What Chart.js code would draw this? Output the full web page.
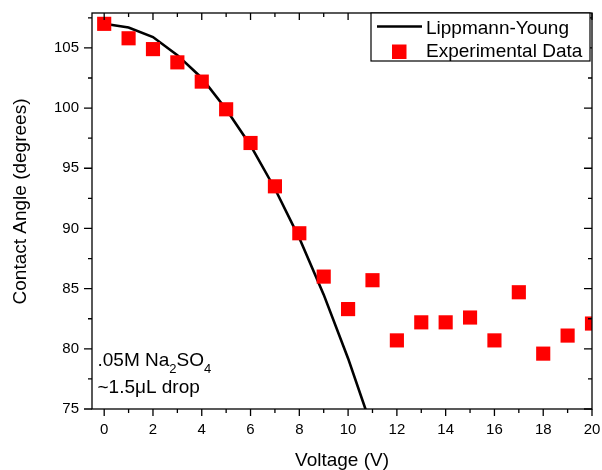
<!DOCTYPE html>
<html>
<head>
<meta charset="utf-8">
<script src="https://cdn.jsdelivr.net/npm/chart.js@4"></script>
<style>
  html, body { margin: 0; padding: 0; background: #fff; }
</style>
</head>
<body>
<canvas id="myChart" width="602" height="470"></canvas>
<script>
// measured points
const voltage = [0, 1, 2, 3, 4, 5, 6, 7, 8, 9, 10, 11, 12, 13, 14, 15, 16, 17, 18, 19, 20]
const contactAngle = [
  107.0, 105.8, 104.9, 103.8, 102.2, 99.9, 97.1, 93.5, 89.6, 86.0, 83.3,
  85.7, 80.7, 82.2, 82.2, 82.6, 80.7, 84.7, 79.6, 81.1, 82.1,
]

// Lippmann-Young curve
const fitVoltage = [0, 1, 2, 3, 4, 5, 6, 7, 8, 9, 10, 11]
const fitAngle = [107.0, 106.7, 105.9, 104.4, 102.5, 99.9, 96.9, 93.3, 89.2, 84.5, 79.2, 73.3]

const xTickValues = [0, 2, 4, 6, 8, 10, 12, 14, 16, 18, 20]
const xMinorTicks = [1, 3, 5, 7, 9, 11, 13, 15, 17, 19]
const yTickValues = [75, 80, 85, 90, 95, 100, 105]
const yMinorTicks = [77.5, 82.5, 87.5, 92.5, 97.5, 102.5, 107.5]

const FONT = "'Liberation Sans', Arial, sans-serif"

Chart.defaults.font.family = FONT
Chart.defaults.font.size = 15
Chart.defaults.color = '#000'

const toPoints = (xs, ys) => xs.map((v, i) => ({ x: v, y: ys[i] }))

const frame = {
  id: 'frame',
  afterDatasetsDraw(chart) {
    const { ctx, chartArea: a, scales: { x, y } } = chart
    ctx.save()
    ctx.strokeStyle = '#000'
    ctx.lineWidth = 1.3
    ctx.strokeRect(a.left, a.top, a.right - a.left, a.bottom - a.top)

    ctx.beginPath()
    const xMark = (v, len) => {
      const px = x.getPixelForValue(v)
      ctx.moveTo(px, a.bottom); ctx.lineTo(px, a.bottom + len)
      ctx.moveTo(px, a.top); ctx.lineTo(px, a.top + len)
    }
    const yMark = (v, len) => {
      const py = y.getPixelForValue(v)
      ctx.moveTo(a.left, py); ctx.lineTo(a.left - len, py)
      ctx.moveTo(a.right, py); ctx.lineTo(a.right - len, py)
    }
    xTickValues.forEach(v => xMark(v, 7))
    xMinorTicks.forEach(v => xMark(v, 4))
    yTickValues.forEach(v => yMark(v, 8))
    yMinorTicks.forEach(v => yMark(v, 4))
    ctx.stroke()

    // axis titles
    ctx.fillStyle = '#000'
    ctx.font = '19px ' + FONT
    ctx.textAlign = 'center'
    ctx.textBaseline = 'alphabetic'
    ctx.fillText('Voltage (V)', (a.left + a.right) / 2, 465.5)
    ctx.save()
    ctx.translate(26, 201.5)
    ctx.rotate(-Math.PI / 2)
    ctx.fillText('Contact Angle (degrees)', 0, 0)
    ctx.restore()

    // legend
    const ds = chart.data.datasets
    ctx.fillStyle = '#fff'
    ctx.fillRect(371, a.top, 219, 48)
    ctx.lineWidth = 1.2
    ctx.strokeRect(371, a.top, 219, 48)
    ctx.beginPath()
    ctx.strokeStyle = ds[0].borderColor
    ctx.lineWidth = 2.6
    ctx.moveTo(377, 26.5); ctx.lineTo(422, 26.5)
    ctx.stroke()
    ctx.fillStyle = ds[1].backgroundColor
    ctx.fillRect(392, 44.5, 14.5, 14.5)
    ctx.fillStyle = '#000'
    ctx.textAlign = 'left'
    ctx.fillText(ds[0].label, 426, 33.5)
    ctx.fillText(ds[1].label, 426, 56.5)

    // note
    let tx = 97.5
    const put = (s, size, base) => {
      ctx.font = size + 'px ' + FONT
      ctx.fillText(s, tx, base)
      tx += ctx.measureText(s).width
    }
    put('.05M Na', 19, 365.5)
    put('2', 13, 373)
    put('SO', 19, 365.5)
    put('4', 13, 373)
    ctx.font = '19px ' + FONT
    ctx.fillText('~1.5\u03bcL drop', 97.5, 393)
    ctx.restore()
  },
}

const ctx = document.getElementById('myChart')

new Chart(ctx, {
  type: 'scatter',
  data: {
    datasets: [
      {
        label: 'Lippmann-Young',
        data: toPoints(fitVoltage, fitAngle),
        showLine: true,
        borderColor: '#000',
        borderWidth: 2.6,
        pointRadius: 0,
        tension: 0,
        clip: 0,
        order: 1,
      },
      {
        label: 'Experimental Data',
        data: toPoints(voltage, contactAngle),
        pointStyle: 'rect',
        pointRadius: 10,
        borderWidth: 0,
        backgroundColor: '#ff0000',
        clip: 0,
        order: 0,
      },
    ],
  },
  options: {
    responsive: false,
    animation: false,
    layout: { padding: { left: 0, top: 13, right: 9.5, bottom: 0 } },
    plugins: {
      legend: { display: false },
      tooltip: { enabled: false },
    },
    scales: {
      x: {
        type: 'linear',
        min: -0.5,
        max: 20,
        grid: { display: false, drawTicks: false },
        border: { display: false },
        ticks: { padding: 12, autoSkip: false, maxRotation: 0 },
        afterBuildTicks: (s) => { s.ticks = xTickValues.map(v => ({ value: v })) },
        afterFit: (s) => {
          s.height = 61
          s.paddingLeft = 0
          s.paddingRight = 0
        },
      },
      y: {
        min: 75,
        max: 107.9,
        grid: { display: false, drawTicks: false },
        border: { display: false },
        ticks: { padding: 13, autoSkip: false },
        afterBuildTicks: (s) => { s.ticks = yTickValues.map(v => ({ value: v })) },
        afterFit: (s) => {
          s.width = 92
          s.paddingTop = 0
          s.paddingBottom = 0
        },
      },
    },
  },
  plugins: [frame],
})
</script>
</body>
</html>
